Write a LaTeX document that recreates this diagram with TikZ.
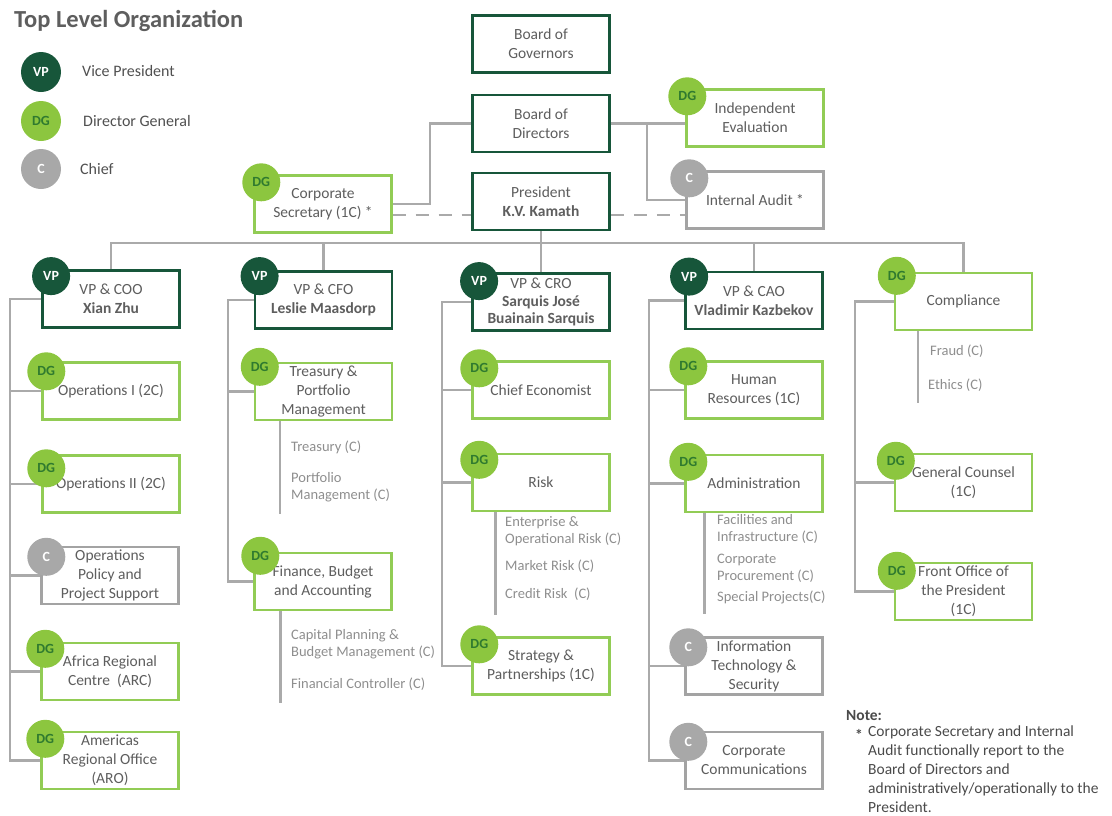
\documentclass[tikz,border=0pt]{standalone}
\usepackage{fontspec}
\setmainfont{Carlito}
\usetikzlibrary{calc}
\definecolor{dkg}{HTML}{17563A}
\definecolor{lgc}{HTML}{8CC63F}
\definecolor{lgb}{HTML}{92CC55}
\definecolor{dgt}{HTML}{2F7A2F}
\definecolor{gc}{HTML}{A8A8A8}
\definecolor{gbox}{HTML}{A3A3A3}
\definecolor{lc}{HTML}{AAAAAA}
\definecolor{txt}{HTML}{5E5E5E}
\definecolor{legt}{HTML}{505050}
\definecolor{subt}{HTML}{8E8E8E}
\definecolor{notet}{HTML}{4A4A4A}
\tikzset{
  box/.style={draw, fill=white, minimum width=137pt, minimum height=57pt, align=center,
    font=\fontsize{15.5}{19}\selectfont, text=txt, inner sep=1pt},
  vpbox/.style={box, draw=dkg, line width=2.8pt},
  dgbox/.style={box, draw=lgb, line width=2.4pt},
  cbox/.style={box, draw=gbox, line width=2.4pt},
  vpc/.style={circle, fill=dkg, minimum size=38pt, inner sep=0pt, text=white, font=\fontsize{14}{14}\selectfont\bfseries},
  dgc/.style={circle, fill=lgc, minimum size=38pt, inner sep=0pt, text=dgt, font=\fontsize{14}{14}\selectfont\bfseries},
  cc/.style={circle, fill=gc, minimum size=38pt, inner sep=0pt, text=white, font=\fontsize{14}{14}\selectfont\bfseries},
  conn/.style={draw=lc, line width=2.6pt},
  dashconn/.style={draw=lc, line width=2.6pt, dash pattern=on 13pt off 10pt},
  subline/.style={draw=lc, line width=2.6pt},
  subtext/.style={anchor=west, align=left, text=subt, font=\fontsize{14.5}{17}\selectfont, inner sep=0pt},
  legtext/.style={anchor=west, text=legt, font=\fontsize{16}{18}\selectfont, inner sep=0pt},
}
\begin{document}
\begin{tikzpicture}[x=1pt,y=-1pt]
\useasboundingbox (0,0) rectangle (1112,815);
% title and legend
\node[anchor=west, text=txt, font=\fontsize{24.5}{28}\selectfont\bfseries, inner sep=0pt] (title) at (14,21) {Top Level Organization};
\node[vpc, minimum size=40pt] (lvp) at (41,72) {VP};
\node[dgc, minimum size=40pt] (ldg) at (41,121) {DG};
\node[cc, minimum size=40pt] (lc) at (41,169) {C};
\node[legtext] (lvpt) at (82,71) {Vice President};
\node[legtext] (ldgt) at (83,121) {Director General};
\node[legtext] (lct) at (80,169) {Chief};

% top level boxes
\node[vpbox] (bog) at (541,44) {Board of\\Governors};
\node[vpbox] (bod) at (541,123.5) {Board of\\Directors};
\node[vpbox] (pres) at (541,201.5) {President\\\textbf{K.V. Kamath}};
\node[dgbox] (cs) at (323,204) {Corporate\\Secretary (1C) *};
\node[dgbox] (ie) at (755,118) {Independent\\Evaluation};
\node[cbox] (ia) at (755,200) {Internal Audit *};

% VP level
\node[vpbox] (coo) at (111,299) {VP \& COO\\\textbf{Xian Zhu}};
\node[vpbox] (cfo) at (323.5,300) {VP \& CFO\\\textbf{Leslie Maasdorp}};
\node[vpbox, font=\fontsize{15.5}{17.5}\selectfont] (cro) at (541,302) {VP \& CRO\\\textbf{Sarquis José}\\\textbf{Buainain Sarquis}};
\node[vpbox] (cao) at (754,300.5) {VP \& CAO\\\textbf{Vladimir Kazbekov}};
\node[dgbox] (cmp) at (963.5,301.5) {Compliance};

% COO column
\node[dgbox] (ops1) at (111,391) {Operations I (2C)};
\node[dgbox] (ops2) at (111,484) {Operations II (2C)};
\node[cbox] (opp) at (110,575.5) {Operations\\Policy and\\Project Support};
\node[dgbox] (afr) at (110,671.5) {Africa Regional\\Centre\ \ (ARC)};
\node[dgbox] (amr) at (110,760.5) {Americas\\Regional Office\\(ARO)};

% CFO column
\node[dgbox] (tpm) at (323.5,391.5) {Treasury \&\\Portfolio\\Management};
\node[dgbox] (fba) at (323,581.5) {Finance, Budget\\and Accounting};

% CRO column
\node[dgbox] (ce) at (541,390) {Chief Economist};
\node[dgbox] (risk) at (541,482.5) {Risk};
\node[dgbox] (stp) at (541,666) {Strategy \&\\Partnerships (1C)};

% CAO column
\node[dgbox] (hr) at (754,390) {Human\\Resources (1C)};
\node[dgbox] (adm) at (754,483.5) {Administration};
\node[cbox] (it) at (754,666) {Information\\Technology \&\\Security};
\node[cbox] (comm) at (754,760.5) {Corporate\\Communications};

% Compliance column
\node[dgbox] (gc) at (963.5,482.5) {General Counsel\\(1C)};
\node[dgbox] (fo) at (963.5,591.5) {Front Office of\\the President\\(1C)};

% connectors top
\coordinate (j1) at (430,123.5);
\draw[conn] (bod.west) -- (j1) |- (cs.east);
\coordinate (j2) at (647,123.5);
\draw[conn] (bod.east) -- (bod.east -| ie.west);
\draw[conn] (j2) |- (ia.west);
\draw[dashconn] ($(cs.east)+(0,11)$) -- ($(pres.west)+(0,13.5)$);
\draw[dashconn] ($(pres.east)+(0,13.5)$) -- ($(ia.west)+(0,15)$);

% bus
\coordinate (bus) at (541,243);
\draw[conn] (pres.south) -- (bus);
\draw[conn] (coo.north) |- (bus) -| (cmp.north);
\draw[conn] (cfo.north) -- (cfo.north |- bus);
\draw[conn] (cro.north) -- (cro.north |- bus);
\draw[conn] (cao.north) -- (cao.north |- bus);

% trunks
\coordinate (tcoo) at (10,0);
\draw[conn] (coo.west) -- (coo.west -| tcoo) |- (amr.west);
\foreach \n in {ops1,ops2,opp,afr} \draw[conn] (\n.west -| tcoo) -- (\n.west);
\coordinate (tcfo) at (228,0);
\draw[conn] (cfo.west) -- (cfo.west -| tcfo) |- (fba.west);
\draw[conn] (tpm.west -| tcfo) -- (tpm.west);
\coordinate (tcro) at (442,0);
\draw[conn] (cro.west) -- (cro.west -| tcro) |- (stp.west);
\foreach \n in {ce,risk} \draw[conn] (\n.west -| tcro) -- (\n.west);
\coordinate (tcao) at (649,0);
\draw[conn] (cao.west) -- (cao.west -| tcao) |- (comm.west);
\foreach \n in {hr,adm,it} \draw[conn] (\n.west -| tcao) -- (\n.west);
\coordinate (tcmp) at (855,0);
\draw[conn] (cmp.west) -- (cmp.west -| tcmp) |- (fo.west);
\draw[conn] (gc.west -| tcmp) -- (gc.west);

% sub lines
\draw[subline] ($(tpm.south west)+(26,0)$) -- ++(0,93);
\draw[subline] ($(fba.south west)+(27,0)$) -- ++(0,92);
\draw[subline] ($(risk.south west)+(24,0)$) -- ++(0,103);
\draw[subline] ($(adm.south west)+(20,0)$) -- ++(0,101);
\draw[subline] ($(cmp.south west)+(24,0)$) -- ++(0,72);

% sub texts
\node[subtext] (t1) at (291,447) {Treasury (C)};
\node[subtext] (t2) at (291,487) {Portfolio\\Management (C)};
\node[subtext] (t3) at (291,644) {Capital Planning \&\\Budget Management (C)};
\node[subtext] (t4) at (291,684) {Financial Controller (C)};
\node[subtext] (r1) at (505,531) {Enterprise \&\\Operational Risk (C)};
\node[subtext] (r2) at (505,566) {Market Risk (C)};
\node[subtext] (r3) at (505,594) {Credit Risk\ \ (C)};
\node[subtext] (a1) at (717,529) {Facilities and\\Infrastructure (C)};
\node[subtext] (a2) at (717,568) {Corporate\\Procurement (C)};
\node[subtext] (a3) at (717,597) {Special Projects(C)};
\node[subtext] (c1) at (930,351) {Fraud (C)};
\node[subtext] (c2) at (928,385) {Ethics (C)};

% circles
\node[vpc] (cooc) at ([shift={(10,7)}]coo.north west) {VP};
\node[vpc] (cfoc) at ([shift={(6,6)}]cfo.north west) {VP};
\node[vpc] (croc) at ([shift={(8,9)}]cro.north west) {VP};
\node[vpc] (caoc) at ([shift={(5,6)}]cao.north west) {VP};
\node[dgc] (cmpc) at ([shift={(3,4)}]cmp.north west) {DG};
\node[dgc] (csc) at ([shift={(8,8)}]cs.north west) {DG};
\node[dgc] (iec) at ([shift={(2,8)}]ie.north west) {DG};
\node[cc] (iac) at ([shift={(4,8)}]ia.north west) {C};
\node[dgc] (ops1c) at ([shift={(5,10)}]ops1.north west) {DG};
\node[dgc] (ops2c) at ([shift={(5,14)}]ops2.north west) {DG};
\node[cc] (oppc) at ([shift={(6,11)}]opp.north west) {C};
\node[dgc] (afrc) at ([shift={(5,7)}]afr.north west) {DG};
\node[dgc] (amrc) at ([shift={(5,8)}]amr.north west) {DG};
\node[dgc] (tpmc) at ([shift={(6,5)}]tpm.north west) {DG};
\node[dgc] (fbac) at ([shift={(7,4)}]fba.north west) {DG};
\node[dgc] (cec) at ([shift={(8,8)}]ce.north west) {DG};
\node[dgc] (riskc) at ([shift={(8,7)}]risk.north west) {DG};
\node[dgc] (stpc) at ([shift={(8,8)}]stp.north west) {DG};
\node[dgc] (hrc) at ([shift={(4,6)}]hr.north west) {DG};
\node[dgc] (admc) at ([shift={(4,8)}]adm.north west) {DG};
\node[cc] (itc) at ([shift={(4,11)}]it.north west) {C};
\node[cc] (commc) at ([shift={(4,11)}]comm.north west) {C};
\node[dgc] (gcc) at ([shift={(2,8)}]gc.north west) {DG};
\node[dgc] (foc) at ([shift={(3,9)}]fo.north west) {DG};

% note
\node[anchor=west, text=notet, font=\fontsize{15.5}{18}\selectfont\bfseries, inner sep=0pt] (note) at (846,716) {Note:};
\node[anchor=west, text=notet, font=\fontsize{15.5}{18}\selectfont\bfseries, inner sep=0pt] (star) at (855,735) {*};
\node[anchor=north west, align=left, text=notet, font=\fontsize{15.5}{19}\selectfont, inner sep=0pt] (notetxt) at (868,726)
  {Corporate Secretary and Internal\\Audit functionally report to the\\Board of Directors and\\administratively/operationally to the\\President.};
\end{tikzpicture}
\end{document}
